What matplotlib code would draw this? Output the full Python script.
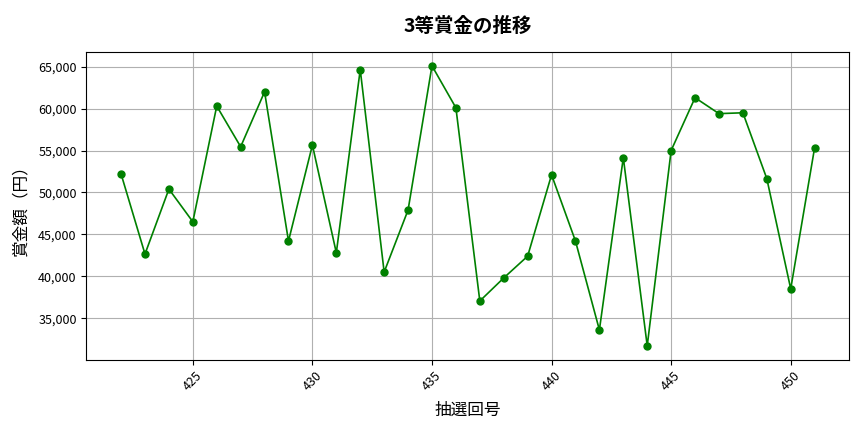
import matplotlib
matplotlib.use("Agg")
import matplotlib.pyplot as plt
from matplotlib.ticker import FuncFormatter

plt.rcParams['font.family'] = ['Noto Sans CJK JP', 'DejaVu Sans']

# 抽選回号と3等賞金
draws = list(range(422, 452))
prize = [52200, 42650, 50400, 46500, 60300, 55450, 62000, 44200, 55650, 42800,
         64650, 40500, 47900, 65100, 60100, 37050, 39800, 42400, 52100, 44200,
         33600, 54150, 31700, 55000, 61300, 59400, 59500, 51650, 38500, 55350]

fig, ax = plt.subplots(figsize=(8.64, 4.32), dpi=100)
ax.plot(draws, prize, color="green", marker="o", markersize=5, linewidth=1.2)

ax.set_title("3等賞金の推移", fontsize=14, fontweight="bold", pad=14)
ax.set_xlabel("抽選回号", fontsize=12, labelpad=6)
ax.set_ylabel("賞金額（円）", fontsize=12, labelpad=6)
ax.yaxis.set_major_formatter(FuncFormatter(lambda v, p: f"{int(v):,}"))
ax.tick_params(axis="x", labelrotation=45)
ax.tick_params(labelsize=9)
ax.grid(True, color="#b0b0b0", linewidth=0.8)

fig.subplots_adjust(left=0.10, right=0.983, top=0.88, bottom=0.167)
fig.savefig("out.png")
